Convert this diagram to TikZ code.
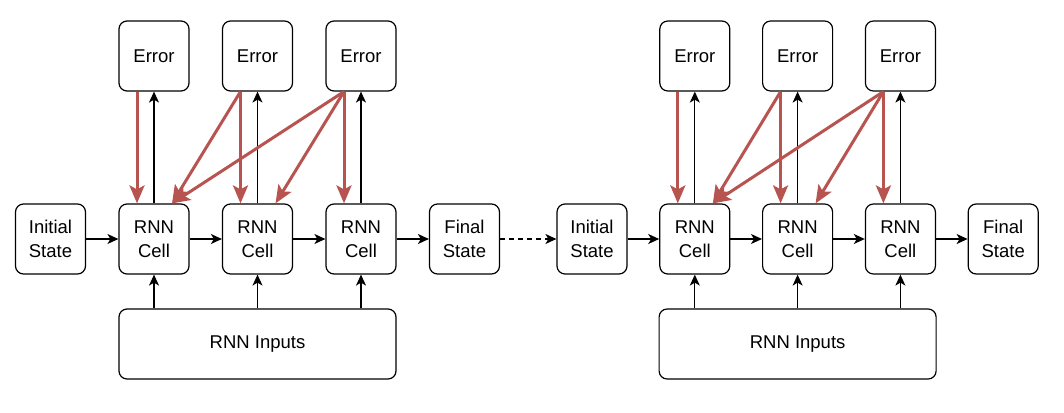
\documentclass[tikz,border=0pt]{standalone}
\usepackage{fontspec}
\setmainfont{Liberation Sans}
\usetikzlibrary{arrows.meta}
\definecolor{errred}{RGB}{184,84,80}
\tikzset{
  box/.style={draw=black, line width=1.2pt, rounded corners=8pt, minimum width=70pt, minimum height=70pt, inner sep=0pt, align=center, font=\fontsize{18.5}{23.5}\selectfont},
  fwd/.style={draw=black, line width=1.3pt, -{Stealth[length=11pt,width=10pt,inset=3pt]}},
  backprop/.style={draw=errred, line width=3pt, -{Stealth[length=18pt,width=15pt,inset=4pt]}}
}
\newcommand\drawhalf[7]{%
  \node[box] (#1i) at (#2,239) {Initial\\State};
  \node[box] (#1c1) at (#3,239) {RNN\\Cell};
  \node[box] (#1c2) at (#4,239) {RNN\\Cell};
  \node[box] (#1c3) at (#5,239) {RNN\\Cell};
  \node[box] (#1f) at (#6,239) {Final\\State};
  \node[box] (#1e1) at (#3,56) {Error};
  \node[box] (#1e2) at (#4,56) {Error};
  \node[box] (#1e3) at (#5,56) {Error};
  \node[box, minimum width=277pt] (#1in) at (#7,344) {RNN Inputs};
  \draw[fwd] (#1i) -- (#1c1);
  \draw[fwd] (#1c1) -- (#1c2);
  \draw[fwd] (#1c2) -- (#1c3);
  \draw[fwd] (#1c3) -- (#1f);
  \foreach \k in {1,2,3}{
    \draw[fwd] (#1c\k.north) -- (#1e\k.south);
    \draw[fwd] (#1in.north -| #1c\k.south) -- (#1c\k.south);
  }
  \draw[backprop] ([xshift=-17pt]#1e1.south) -- ([xshift=-17pt]#1c1.north);
  \draw[backprop] ([xshift=-17pt]#1e2.south) -- ([xshift=-17pt]#1c2.north);
  \draw[backprop] ([xshift=-17pt]#1e3.south) -- ([xshift=-17pt]#1c3.north);
  \draw[backprop] ([xshift=-17pt]#1e2.south) -- ([xshift=18pt]#1c1.north);
  \draw[backprop] ([xshift=-17pt]#1e3.south) -- ([xshift=18pt]#1c1.north);
  \draw[backprop] ([xshift=-17pt]#1e3.south) -- ([xshift=18pt]#1c2.north);
}
\begin{document}
\begin{tikzpicture}[x=1pt,y=-1pt]
\useasboundingbox (0,0) rectangle (1064,412);
\drawhalf{a}{50.5}{154}{257.5}{361}{464.5}{257.5}
\drawhalf{b}{592}{694.8}{797.6}{900.4}{1003.2}{797.6}
\draw[fwd, dash pattern=on 5pt off 4pt] (af) -- (bi);
\end{tikzpicture}
\end{document}
